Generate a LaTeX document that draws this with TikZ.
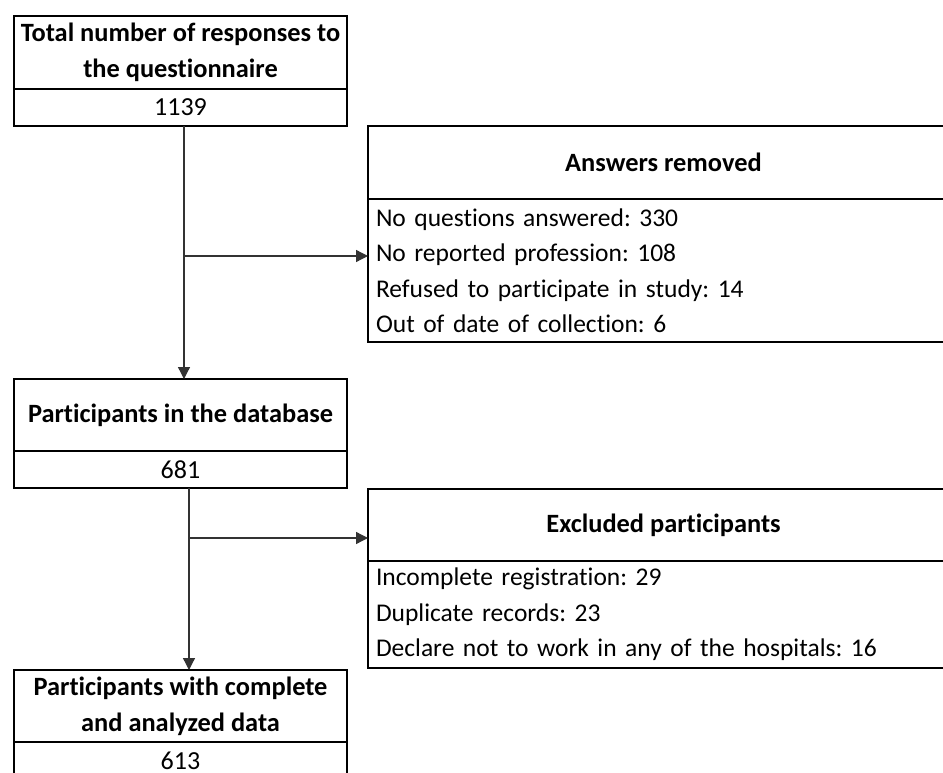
\documentclass[tikz,border=0pt]{standalone}
\usepackage{fontspec}
\setmainfont{Carlito}[Ligatures=NoCommon]
\usetikzlibrary{positioning, arrows.meta}
\frenchspacing
\newcommand{\listfont}{\fontsize{25.5}{35.5}\selectfont\spaceskip=5pt\relax}

\begin{document}
\begin{tikzpicture}[
    x=1pt, y=1pt,
    head/.style={
        rectangle,
        draw,
        line width=2pt,
        minimum width=333pt,
        minimum height=#1,
        inner sep=0pt, outer sep=0pt,
        align=center,
        font=\fontsize{26.4}{36}\selectfont\bfseries
    },
    count/.style={
        rectangle,
        draw,
        line width=2pt,
        minimum width=333pt,
        minimum height=37pt,
        inner sep=0pt, outer sep=0pt,
        font=\fontsize{26}{30}\selectfont
    },
    widehead/.style={head=#1, minimum width=591pt},
    itemlist/.style={
        rectangle,
        draw,
        line width=2pt,
        minimum width=591pt,
        minimum height=#1,
        text width=575pt,
        inner xsep=8pt, inner ysep=0pt, outer sep=0pt,
        align=left,
        font=\listfont
    },
    arrow/.style={-{Triangle[length=12pt,width=12pt]}, line width=1.3pt, black!80}
]
    \useasboundingbox (0,0) rectangle (943,-773);

    \node[head=73pt] (total) at (180.5,-52.5) {Total number of responses to\\the questionnaire};
    \node[count, below=0pt of total] (totalN) {1139};
    \node[head=72pt] (database) at (180.5,-415) {Participants in the database};
    \node[count, below=0pt of database] (databaseN) {681};
    \node[head=72pt] (analyzed) at (180.5,-706) {Participants with complete\\and analyzed data};
    \node[count, below=0pt of analyzed] (analyzedN) {613};

    \node[widehead=73pt] (removed) at (663.5,-162.5) {Answers removed};
    \node[itemlist=143pt, below=0pt of removed] (removedList) {No questions answered: 330\\No reported profession: 108\\Refused to participate in study: 14\\Out of date of collection: 6};
    \node[widehead=72pt] (excluded) at (663.5,-525) {Excluded participants};
    \node[itemlist=107pt, below=0pt of excluded] (excludedList) {Incomplete registration: 29\\Duplicate records: 23\\Declare not to work in any of the hospitals: 16};

    \coordinate (split1) at ([xshift=3.5pt]totalN.south |- 0,-256);
    \coordinate (split2) at ([xshift=8.5pt]databaseN.south |- 0,-538);

    \draw[arrow] ([xshift=3.5pt]totalN.south) -- ([xshift=3.5pt]database.north);
    \draw[arrow] (split1) -- (split1 -| removedList.west);
    \draw[arrow] ([xshift=8.5pt]databaseN.south) -- ([xshift=8.5pt]analyzed.north);
    \draw[arrow] (split2) -- (split2 -| excluded.west);
\end{tikzpicture}
\end{document}
